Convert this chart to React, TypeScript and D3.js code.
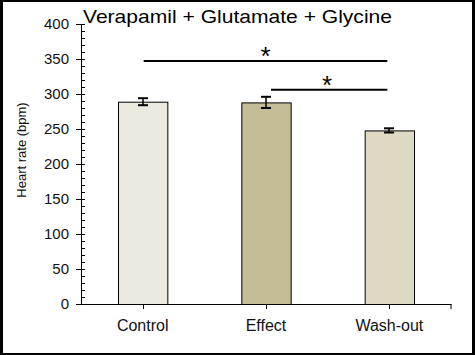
import React from "react";
import * as d3 from "d3";

const categories = ["Control", "Effect", "Wash-out"];
const values = [289, 288, 248];
const errors = [5, 8, 3];
const colors = ["#ECE9DF", "#C4BD97", "#DDD9C3"];
const yTicks = [0, 50, 100, 150, 200, 250, 300, 350, 400];
const sigPairs = [
  { from: "Control", to: "Wash-out", level: 347 },
  { from: "Effect", to: "Wash-out", level: 306 },
];

const W = 475;
const H = 355;
const font = "'Liberation Sans', Arial, sans-serif";

export default function App() {
  const x = d3
    .scaleBand<string>()
    .domain(categories)
    .range([81, 451])
    .paddingInner(0.6)
    .paddingOuter(0.3);
  const y = d3.scaleLinear().domain([0, 400]).range([304, 24]);
  const minor = d3.range(0, 401, 10).filter((v) => v % 50 !== 0);
  const cx = (c: string) => (x(c) as number) + x.bandwidth() / 2;

  return (
    <svg
      width={W}
      height={H}
      style={{ position: "absolute", left: 0, top: 0, display: "block" }}
    >
      <rect x={0} y={0} width={W} height={H} fill="#000" />
      <rect x={3} y={2} width={469} height={351} fill="#fff" />

      <text
        x={83}
        y={23}
        fontFamily={font}
        fontSize={19}
        textLength={309}
        lengthAdjust="spacingAndGlyphs"
        fill="#000"
      >
        Verapamil + Glutamate + Glycine
      </text>

      {/* bars */}
      {categories.map((c, i) => (
        <rect
          key={c}
          x={(x(c) as number) + 0.5}
          y={y(values[i]) + 0.5}
          width={x.bandwidth()}
          height={y(0) - y(values[i])}
          fill={colors[i]}
          stroke="#000"
          strokeWidth={1}
        />
      ))}

      {/* error bars */}
      {categories.map((c, i) => {
        const xc = Math.round(cx(c));
        const top = y(values[i] + errors[i]);
        const bot = y(values[i] - errors[i]);
        return (
          <g key={c} stroke="#000" strokeWidth={2}>
            <line x1={xc} x2={xc} y1={top} y2={bot} strokeWidth={1.5} />
            <line x1={xc - 5} x2={xc + 5} y1={top} y2={top} />
            <line x1={xc - 5} x2={xc + 5} y1={bot} y2={bot} />
          </g>
        );
      })}

      {/* y axis */}
      <line x1={81.5} x2={81.5} y1={y(400)} y2={y(0)} stroke="#000" strokeWidth={1} />
      {yTicks.map((t) => (
        <g key={t}>
          <line x1={76} x2={85} y1={Math.round(y(t)) + 0.5} y2={Math.round(y(t)) + 0.5} stroke="#000" />
          <text
            x={69}
            y={y(t)}
            dy="0.35em"
            textAnchor="end"
            fontFamily={font}
            fontSize={15}
            fill="#111"
          >
            {t}
          </text>
        </g>
      ))}
      {minor.map((t) => (
        <line key={t} x1={81} x2={85} y1={Math.round(y(t)) + 0.5} y2={Math.round(y(t)) + 0.5} stroke="#000" />
      ))}

      {/* x axis */}
      <line x1={81} x2={451.5} y1={304.5} y2={304.5} stroke="#000" strokeWidth={1} />
      {categories.map((c) => (
        <g key={c}>
          <line x1={Math.round(cx(c)) + 0.5} x2={Math.round(cx(c)) + 0.5} y1={304} y2={309} stroke="#000" />
          <text
            x={cx(c)}
            y={331}
            textAnchor="middle"
            fontFamily={font}
            fontSize={16}
            fill="#111"
          >
            {c}
          </text>
        </g>
      ))}
      <line x1={451} x2={451} y1={304} y2={309} stroke="#000" />

      {/* y label */}
      <text
        transform="translate(26,150) rotate(-90)"
        textAnchor="middle"
        fontFamily={font}
        fontSize={13}
        fill="#111"
      >
        Heart rate (bpm)
      </text>

      {/* significance */}
      {sigPairs.map((s, i) => {
        const x1 = i === 0 ? cx(s.from) + 1 : cx(s.from) + 5;
        const x2 = cx(s.to) - 2;
        const yy = y(s.level);
        return (
          <g key={i}>
            <line x1={x1} x2={x2} y1={yy} y2={yy} stroke="#000" strokeWidth={2} />
            <text
              x={i === 0 ? (x1 + x2) / 2 : (x1 + x2) / 2 - 2}
              y={yy + 4}
              textAnchor="middle"
              fontFamily={font}
              fontSize={26}
              fill="#000"
            >
              *
            </text>
          </g>
        );
      })}
    </svg>
  );
}
